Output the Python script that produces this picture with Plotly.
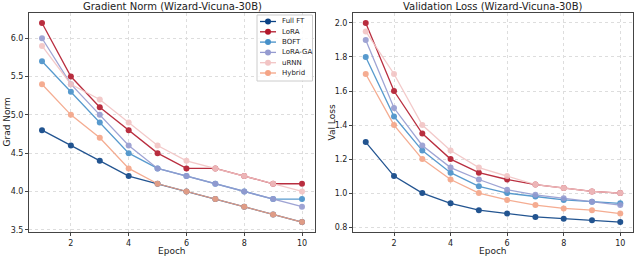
import plotly.graph_objects as go

epochs = [1, 2, 3, 4, 5, 6, 7, 8, 9, 10]
methods = ["Full FT", "LoRA", "BOFT", "LoRA-GA", "uRNN", "Hybrid"]
colors = ["#0b4285", "#b2182b", "#4690c9", "#959bd0", "#f2c4c4", "#f4a486"]

grad_norm = {
    "Full FT": [4.8, 4.6, 4.4, 4.2, 4.1, 4.0, 3.9, 3.8, 3.7, 3.6],
    "LoRA":    [6.2, 5.5, 5.1, 4.8, 4.5, 4.3, 4.3, 4.2, 4.1, 4.1],
    "BOFT":    [5.7, 5.3, 4.9, 4.5, 4.3, 4.2, 4.1, 4.0, 3.9, 3.9],
    "LoRA-GA": [6.0, 5.4, 5.0, 4.6, 4.3, 4.2, 4.1, 4.0, 3.9, 3.8],
    "uRNN":    [5.9, 5.4, 5.2, 4.9, 4.6, 4.4, 4.3, 4.2, 4.1, 4.0],
    "Hybrid":  [5.4, 5.0, 4.7, 4.3, 4.1, 4.0, 3.9, 3.8, 3.7, 3.6],
}
val_loss = {
    "Full FT": [1.30, 1.10, 1.00, 0.94, 0.90, 0.88, 0.86, 0.85, 0.84, 0.83],
    "LoRA":    [2.00, 1.60, 1.35, 1.20, 1.12, 1.08, 1.05, 1.03, 1.01, 1.00],
    "BOFT":    [1.80, 1.45, 1.25, 1.12, 1.04, 1.00, 0.98, 0.96, 0.95, 0.94],
    "LoRA-GA": [1.90, 1.50, 1.28, 1.15, 1.08, 1.02, 0.99, 0.97, 0.95, 0.93],
    "uRNN":    [1.95, 1.70, 1.40, 1.25, 1.15, 1.10, 1.05, 1.03, 1.01, 1.00],
    "Hybrid":  [1.70, 1.40, 1.20, 1.08, 1.00, 0.96, 0.93, 0.91, 0.90, 0.88],
}

titles = ["Gradient Norm (Wizard-Vicuna-30B)", "Validation Loss (Wizard-Vicuna-30B)"]
ylabels = ["Grad Norm", "Val Loss"]

W, H = 640, 256
ML, MR, MT, MB = 29, 7, 13, 24
PW, PH = W - ML - MR, H - MT - MB


def px(x):
    return (x - ML) / PW


def py(y):
    return (H - MB - y) / PH


fig = go.Figure()
for m, c in zip(methods, colors):
    fig.add_trace(go.Scatter(x=epochs, y=grad_norm[m], name=m, mode="lines+markers",
                             line=dict(color=c, width=1.3), marker=dict(color=c, size=6),
                             opacity=0.9, xaxis="x", yaxis="y", showlegend=False))
for m, c in zip(methods, colors):
    fig.add_trace(go.Scatter(x=epochs, y=val_loss[m], name=m, mode="lines+markers",
                             line=dict(color=c, width=1.3), marker=dict(color=c, size=6),
                             opacity=0.9, xaxis="x2", yaxis="y2", showlegend=False))

axis_common = dict(showline=True, linecolor="#444", linewidth=1, mirror=True,
                   showgrid=True, gridcolor="#dddddd", griddash="dot", gridwidth=1,
                   ticks="outside", ticklen=3, tickcolor="#444", zeroline=False,
                   tickfont=dict(family="DejaVu Sans", size=8, color="#222"))

x1d = [0, px(315)]
x2d = [px(353), 1]

fig.update_layout(
    width=W, height=H,
    margin=dict(l=ML, r=MR, t=MT, b=MB),
    paper_bgcolor="white", plot_bgcolor="white",
    font=dict(family="DejaVu Sans", size=9, color="#222"),
    showlegend=False,
    xaxis=dict(domain=x1d, range=[0.55, 10.45], tickvals=[2, 4, 6, 8, 10],
               anchor="y", ticklabelstandoff=0, **axis_common),
    yaxis=dict(domain=[0, 1], range=[3.47, 6.33], tickvals=[3.5, 4.0, 4.5, 5.0, 5.5, 6.0],
               tickformat=".1f", anchor="x", **axis_common),
    xaxis2=dict(domain=x2d, range=[0.55, 10.45], tickvals=[2, 4, 6, 8, 10],
                anchor="y2", ticklabelstandoff=0, **axis_common),
    yaxis2=dict(domain=[0, 1], range=[0.7715, 2.0585], tickvals=[0.8, 1.0, 1.2, 1.4, 1.6, 1.8, 2.0],
                tickformat=".1f", anchor="x2", **axis_common),
)

# manual compact legend (upper right of left panel)
shapes = [dict(type="rect", xref="paper", yref="paper", x0=px(257), x1=px(312.5),
               y0=py(81), y1=py(15), line=dict(color="#cccccc", width=1),
               fillcolor="rgba(255,255,255,0.85)", layer="above")]
legend_y = [21.5, 31.8, 42.1, 52.4, 62.7, 73.0]
for m, c, ly in zip(methods, colors, legend_y):
    shapes.append(dict(type="line", xref="paper", yref="paper", x0=px(260), x1=px(276),
                       y0=py(ly), y1=py(ly), line=dict(color=c, width=1.3), layer="above"))
    shapes.append(dict(type="circle", xref="paper", yref="paper",
                       xsizemode="pixel", ysizemode="pixel",
                       xanchor=px(268), yanchor=py(ly), x0=-3, x1=3, y0=-3, y1=3,
                       fillcolor=c, line=dict(color=c, width=0), layer="above"))
    fig.add_annotation(text=m, x=px(280), y=py(ly), xref="paper", yref="paper",
                       xanchor="left", yanchor="middle", showarrow=False,
                       font=dict(family="DejaVu Sans", size=7, color="#222"))
fig.update_layout(shapes=shapes)

# titles and axis labels
for xd, t in zip([x1d, x2d], titles):
    xc = (xd[0] + xd[1]) / 2
    fig.add_annotation(text=t, x=xc, y=py(7), xref="paper", yref="paper",
                       xanchor="center", yanchor="middle", showarrow=False,
                       font=dict(family="DejaVu Sans", size=10, color="#222"))
    fig.add_annotation(text="Epoch", x=xc, y=py(251), xref="paper", yref="paper",
                       xanchor="center", yanchor="middle", showarrow=False,
                       font=dict(family="DejaVu Sans", size=9, color="#222"))
fig.add_annotation(text=ylabels[0], x=px(6), y=0.5, xref="paper", yref="paper",
                   xanchor="center", yanchor="middle", textangle=-90, showarrow=False,
                   font=dict(family="DejaVu Sans", size=9, color="#222"))
fig.add_annotation(text=ylabels[1], x=px(331), y=0.5, xref="paper", yref="paper",
                   xanchor="center", yanchor="middle", textangle=-90, showarrow=False,
                   font=dict(family="DejaVu Sans", size=9, color="#222"))

fig.write_html("out.html", config={"displayModeBar": False},
               post_script="document.body.style.margin='0';")
